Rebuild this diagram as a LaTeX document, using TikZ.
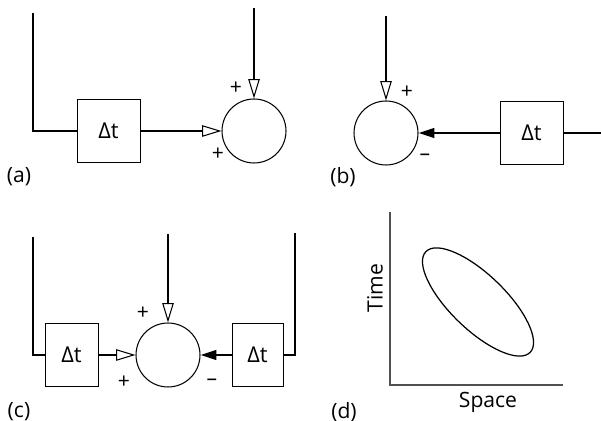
\documentclass[tikz,border=0pt]{standalone}
\usepackage{fontspec}
\setmainfont{Open Sans}
\usepackage{tikz}
\usetikzlibrary{arrows.meta,positioning,calc}
\definecolor{axisgray}{RGB}{80,80,80}
\tikzset{
  delaybox/.style={rectangle, draw, line width=0.45pt, minimum width=1.26cm, minimum height=1.26cm, inner sep=0pt, font=\fontsize{12.5}{14}\selectfont},
  sumnode/.style={circle, draw, line width=0.6pt, minimum size=1.28cm, inner sep=0pt},
  wire/.style={line width=1.2pt},
  openarrow/.style={wire, -{Triangle[open, line width=0.6pt, length=11pt, width=6.5pt]}},
  fillarrow/.style={wire, -{Triangle[length=9pt, width=5.5pt]}},
  sign/.style={font=\fontsize{12}{14}\selectfont, inner sep=0pt},
  panel/.style={font=\fontsize{12}{14}\selectfont, inner sep=0pt},
  axis/.style={draw=axisgray, line width=1.2pt},
}

\begin{document}
\begin{tikzpicture}[x=0.02cm, y=-0.02cm]
  \useasboundingbox (0,0) rectangle (601,421);

  % Panel (a) - two positive inputs
  \node[delaybox] (da) at (108.5,131) {Δt};
  \node[sumnode] (sa) at (254,131) {};
  \coordinate (a-fb) at (33,13);
  \coordinate (a-in) at (254,8);
  \draw[wire] (a-fb) |- (da.west);
  \draw[openarrow] (da.east) -- (sa.west);
  \draw[openarrow] (a-in) -- (sa.north);
  \node[sign] (pa1) at (236,88) {+};
  \node[sign] (pa2) at (218,154) {+};
  \node[panel] (la) at (19,177) {(a)};

  % Panel (b) - delayed input subtracted
  \node[sumnode] (sb) at (386,133) {};
  \node[delaybox] (db) at (531.5,133) {Δt};
  \coordinate (b-in) at (386,16);
  \coordinate (b-out) at (601,133);
  \draw[openarrow] (b-in) -- (sb.north);
  \draw[fillarrow] (db.west) -- (sb.east);
  \draw[wire] (db.east) -- (b-out);
  \node[sign] (pb1) at (407,92) {+};
  \node[sign] (pb2) at (425,157) {--};
  \node[panel] (lb) at (343,177) {(b)};

  % Panel (c) - both sides
  \node[delaybox, minimum width=1.06cm] (dc1) at (71.5,355) {Δt};
  \node[sumnode] (sc) at (168,355) {};
  \node[delaybox, minimum width=1.02cm] (dc2) at (257.5,355) {Δt};
  \coordinate (c-left) at (33,237);
  \coordinate (c-in) at (168,234);
  \coordinate (c-right) at (295,233);
  \draw[wire] (c-left) |- (dc1.west);
  \draw[openarrow] (dc1.east) -- (sc.west);
  \draw[openarrow] (c-in) -- (sc.north);
  \draw[fillarrow] (dc2.west) -- (sc.east);
  \draw[wire] (c-right) |- (dc2.east);
  \node[sign] (pc1) at (143,313) {+};
  \node[sign] (pc2) at (124,382) {+};
  \node[sign] (pc3) at (212,382) {--};
  \node[panel] (lc) at (19,412) {(c)};

  % Panel (d) - space-time plot
  \draw[axis] (390,212) -- (390,385) -- (563,385);
  \draw[line width=0.7pt, rotate around={-44:(478,302)}] (478,302) ellipse [x radius=1.45cm, y radius=0.55cm];
  \node[panel, rotate=90] (time) at (375,288) {Time};
  \node[panel] (space) at (488,402) {Space};
  \node[panel] (ld) at (344,412) {(d)};

\end{tikzpicture}
\end{document}
